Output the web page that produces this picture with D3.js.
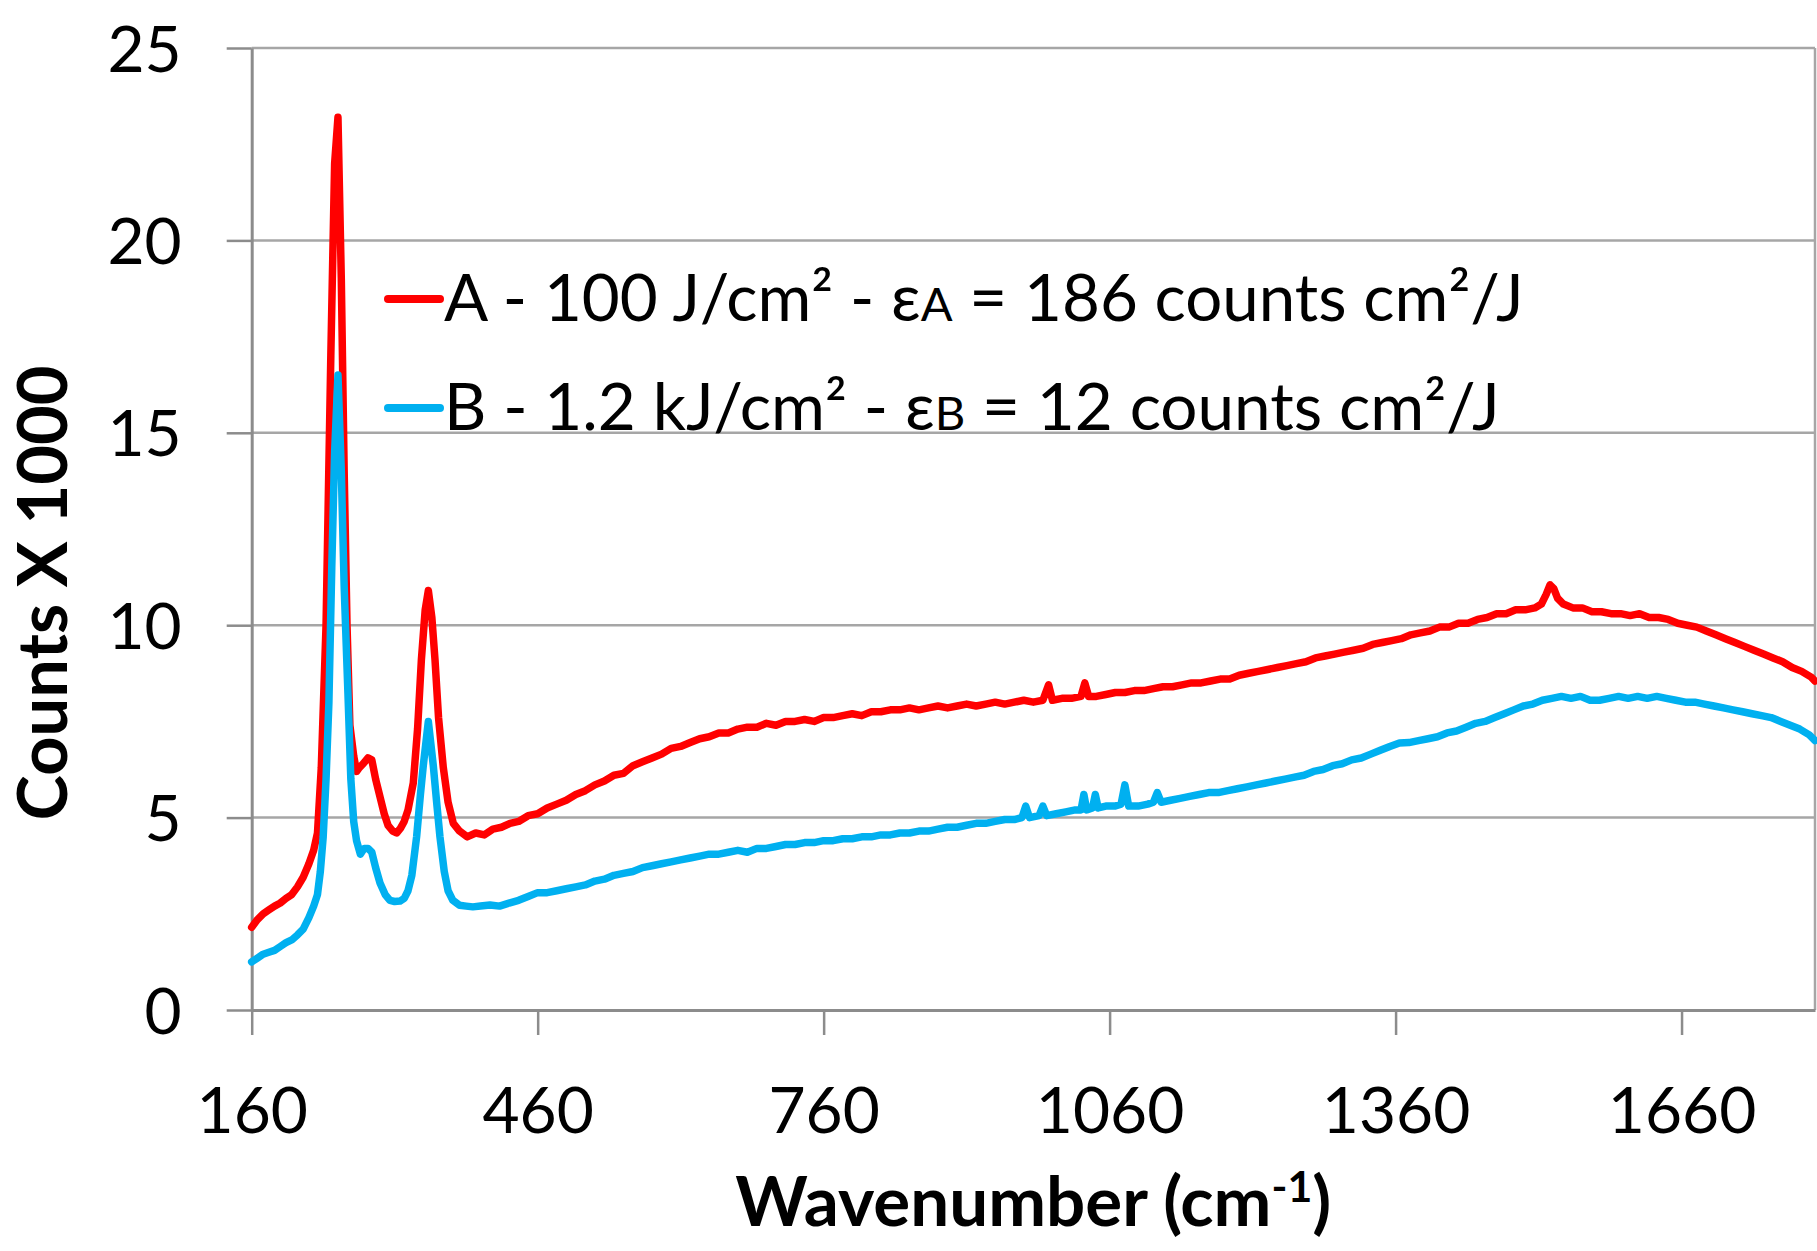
<!DOCTYPE html>
<html>
<head>
<meta charset="utf-8">
<script src="https://cdn.jsdelivr.net/npm/d3@7"></script>
<style>
  html, body { margin: 0; padding: 0; background: #ffffff; }
  svg { display: block; }
  text { font-family: Lato, "Open Sans", "Liberation Sans", sans-serif; fill: #000; }
</style>
</head>
<body>
<svg id="chart" width="1817" height="1251"></svg>
<script>
// ---------------- data ----------------
const xTicks = [160, 460, 760, 1060, 1360, 1660];
const yTicks = [0, 5, 10, 15, 20, 25];
const xDomain = [160, 1800];
const yDomain = [0, 25];

const seriesNames = [
  "A - 100 J/cm² - ε|A| = 186 counts cm²/J",
  "B - 1.2 kJ/cm² - ε|B| = 12 counts cm²/J"
];

const waveA = [160,166,172,178,184,190,196,202,208,214,220,225,229,233,238,243,247,250.5,254,257,260,263,267,270,273,277,282,286,290,295,299,303,308,312,316,320,324,329.5,334,338,342,345.3,349,352.3,356,361,366,371.5,378,386,395,404,413,422,431,440,450,460,470,480,490,500,510,520,530,540,550,560,570,580,590,600,610,620,630,640,650,660,670,680,690,700,710,720,730,740,750,760,770,780,790,800,810,820,830,840,850,860,870,880,890,900,910,920,930,940,950,960,970,980,990,996,1000,1010,1020,1030,1034,1038,1046,1056,1066,1076,1086,1096,1106,1116,1126,1136,1146,1156,1166,1176,1186,1196,1206,1216,1226,1236,1246,1256,1266,1276,1286,1296,1306,1316,1326,1336,1346,1356,1366,1376,1386,1396,1406,1416,1426,1436,1446,1456,1466,1476,1486,1496,1506,1513,1518,1522,1526,1530,1536,1546,1556,1566,1576,1586,1596,1606,1616,1626,1636,1646,1656,1666,1676,1686,1696,1706,1716,1726,1736,1746,1756,1766,1776,1786,1796,1800];
const countsA = [2.15,2.35,2.5,2.6,2.7,2.78,2.9,3.0,3.2,3.45,3.8,4.15,4.6,6.3,10.0,17.0,22.0,23.2,19.0,14.0,10.0,7.4,6.6,6.2,6.3,6.4,6.55,6.5,6.0,5.5,5.1,4.8,4.65,4.6,4.72,4.9,5.2,5.9,7.3,9.1,10.4,10.9,10.2,9.1,7.6,6.3,5.4,4.85,4.65,4.5,4.6,4.55,4.7,4.75,4.85,4.9,5.05,5.1,5.25,5.35,5.45,5.6,5.7,5.85,5.95,6.1,6.15,6.35,6.45,6.55,6.65,6.8,6.85,6.95,7.05,7.1,7.2,7.2,7.3,7.35,7.35,7.45,7.4,7.5,7.5,7.55,7.5,7.6,7.6,7.65,7.7,7.65,7.75,7.75,7.8,7.8,7.85,7.8,7.85,7.9,7.85,7.9,7.95,7.9,7.95,8.0,7.95,8.0,8.05,8.0,8.05,8.45,8.05,8.1,8.1,8.15,8.5,8.15,8.15,8.2,8.25,8.25,8.3,8.3,8.35,8.4,8.4,8.45,8.5,8.5,8.55,8.6,8.6,8.7,8.75,8.8,8.85,8.9,8.95,9.0,9.05,9.15,9.2,9.25,9.3,9.35,9.4,9.5,9.55,9.6,9.65,9.75,9.8,9.85,9.95,9.95,10.05,10.05,10.15,10.2,10.3,10.3,10.4,10.4,10.45,10.55,10.8,11.05,10.95,10.7,10.55,10.45,10.45,10.35,10.35,10.3,10.3,10.25,10.3,10.2,10.2,10.15,10.05,10.0,9.95,9.85,9.75,9.65,9.55,9.45,9.35,9.25,9.15,9.05,8.9,8.8,8.65,8.55];

const waveB = [160,166,172,178,184,190,196,202,208,214,220,225,229,232,235,238,241,244,247,250.5,254,257,261,264,267,270,274,278,282,286,290,294.6,300,305,310,315.6,320,324,328,333,337,340,345.3,350.5,354,357.5,362,366,371,378,385,392,400,410,420,430,440,450,460,470,480,490,500,510,520,530,540,550,560,570,580,590,600,610,620,630,640,650,660,670,680,690,700,710,720,730,740,750,760,770,780,790,800,810,820,830,840,850,860,870,880,890,900,910,920,930,940,950,960,968,972,976,986,990,994,1004,1014,1024,1030,1033,1036,1042,1045,1048,1056,1066,1072,1076,1080,1090,1100,1106,1110,1114,1124,1134,1144,1154,1164,1174,1184,1194,1204,1214,1224,1234,1244,1254,1264,1274,1284,1294,1304,1314,1324,1334,1344,1354,1364,1374,1384,1394,1404,1414,1424,1434,1444,1454,1464,1474,1484,1494,1504,1514,1524,1534,1544,1554,1564,1574,1584,1594,1604,1614,1624,1634,1644,1654,1664,1674,1684,1694,1704,1714,1724,1734,1744,1754,1764,1774,1784,1794,1800];
const countsB = [1.25,1.35,1.45,1.5,1.55,1.65,1.75,1.82,1.95,2.1,2.4,2.7,3.0,3.6,4.5,6.0,8.0,11.5,14.5,16.5,14.0,11.0,8.2,6.0,4.9,4.4,4.05,4.2,4.2,4.1,3.7,3.3,3.0,2.85,2.82,2.83,2.9,3.1,3.5,4.5,5.6,6.35,7.5,6.35,5.4,4.5,3.6,3.1,2.85,2.72,2.7,2.68,2.7,2.73,2.7,2.78,2.85,2.95,3.05,3.05,3.1,3.15,3.2,3.25,3.35,3.4,3.5,3.55,3.6,3.7,3.75,3.8,3.85,3.9,3.95,4.0,4.05,4.05,4.1,4.15,4.1,4.2,4.2,4.25,4.3,4.3,4.35,4.35,4.4,4.4,4.45,4.45,4.5,4.5,4.55,4.55,4.6,4.6,4.65,4.65,4.7,4.75,4.75,4.8,4.85,4.85,4.9,4.95,4.95,5.0,5.3,5.0,5.05,5.3,5.05,5.1,5.15,5.2,5.2,5.6,5.2,5.25,5.6,5.25,5.3,5.3,5.35,5.85,5.3,5.3,5.35,5.4,5.65,5.4,5.45,5.5,5.55,5.6,5.65,5.65,5.7,5.75,5.8,5.85,5.9,5.95,6.0,6.05,6.1,6.2,6.25,6.35,6.4,6.5,6.55,6.65,6.75,6.85,6.94,6.95,7.0,7.05,7.1,7.2,7.25,7.35,7.45,7.5,7.6,7.7,7.8,7.9,7.95,8.05,8.1,8.15,8.1,8.15,8.05,8.05,8.1,8.15,8.1,8.15,8.1,8.15,8.1,8.05,8.0,8.0,7.95,7.9,7.85,7.8,7.75,7.7,7.65,7.6,7.5,7.4,7.3,7.15,7.0];

const seriesColors = ["#ff0000", "#00b0f0"];

// ---------------- layout ----------------
const plot = { left: 251.7, right: 1815, top: 48, bottom: 1010 };
const svg = d3.select("#chart");

const x = d3.scaleLinear().domain(xDomain).range([plot.left, plot.right]);
const y = d3.scaleLinear().domain(yDomain).range([plot.bottom, plot.top]);

const gridColor = "#a6a6a6";
const axisColor = "#8c8c8c";
const tickFont = 64;

// gridlines
svg.append("g").selectAll("line").data(yTicks.filter(d => d > 0)).join("line")
  .attr("x1", plot.left).attr("x2", plot.right)
  .attr("y1", d => y(d)).attr("y2", d => y(d))
  .attr("stroke", gridColor).attr("stroke-width", 2.5);

// right border
svg.append("line")
  .attr("x1", plot.right).attr("x2", plot.right)
  .attr("y1", y(25)).attr("y2", y(0))
  .attr("stroke", gridColor).attr("stroke-width", 2.5);

// axes
const yAxis = svg.append("g").attr("transform", `translate(${plot.left},0)`)
  .call(d3.axisLeft(y).tickValues(yTicks).tickFormat(d3.format("d"))
    .tickSizeInner(25).tickSizeOuter(0).tickPadding(45));
const xAxis = svg.append("g").attr("transform", `translate(0,${plot.bottom})`)
  .call(d3.axisBottom(x).tickValues(xTicks).tickFormat(d3.format("d"))
    .tickSizeInner(25).tickSizeOuter(0).tickPadding(50));

[yAxis, xAxis].forEach(g => {
  g.select(".domain").attr("stroke", axisColor).attr("stroke-width", 3);
  g.selectAll(".tick line").attr("stroke", axisColor).attr("stroke-width", 2.5);
  g.selectAll(".tick text")
    .attr("font-family", "Lato, 'Open Sans', sans-serif")
    .attr("font-size", tickFont).attr("fill", "#000");
});
yAxis.selectAll(".tick text").attr("dy", "0.36em");
xAxis.selectAll(".tick text").attr("y", 123).attr("dy", 0);

// lines
const line = d3.line().x(d => x(d[0])).y(d => y(d[1]));
const dataA = waveA.map((w, i) => [w, countsA[i]]);
const dataB = waveB.map((w, i) => [w, countsB[i]]);
[dataA, dataB].forEach((data, i) => {
  svg.append("path").datum(data)
    .attr("d", line)
    .attr("fill", "none")
    .attr("stroke", seriesColors[i])
    .attr("stroke-width", 7.5)
    .attr("stroke-linejoin", "round")
    .attr("stroke-linecap", "round");
});

// helper: scale font so the text spans target width
function fitText(t, target) {
  const fs = parseFloat(t.attr("font-size"));
  const w = t.node().getComputedTextLength();
  if (w > 0) t.attr("font-size", fs * target / w);
}

// legend
const legendRows = [
  { cy: 299, baseline: 321, width: 1080 },
  { cy: 408, baseline: 430, width: 1056 }
];
seriesNames.forEach((name, i) => {
  const r = legendRows[i];
  svg.append("line")
    .attr("x1", 388).attr("x2", 440)
    .attr("y1", r.cy).attr("y2", r.cy)
    .attr("stroke", seriesColors[i]).attr("stroke-width", 8)
    .attr("stroke-linecap", "round");
  const t = svg.append("text").attr("x", 444).attr("y", r.baseline).attr("font-size", 64);
  const parts = name.split("|");
  t.append("tspan").text(parts[0]);
  t.append("tspan").attr("font-size", "0.72em").text(parts[1]);
  t.append("tspan").text(parts[2]);
  fitText(t, r.width);
});

// axis titles
const xt = svg.append("text")
  .attr("x", (plot.left + plot.right) / 2).attr("y", 1226)
  .attr("text-anchor", "middle").attr("font-weight", "bold").attr("font-size", 64);
xt.append("tspan").text("Wavenumber (cm");
xt.append("tspan").attr("font-size", "0.62em").attr("dy", "-0.55em").text("-1");
xt.append("tspan").attr("dy", "0.34em").text(")");
fitText(xt, 596);

const yt = svg.append("text")
  .attr("transform", "translate(67,593) rotate(-90)")
  .attr("text-anchor", "middle").attr("font-weight", "bold").attr("font-size", 68)
  .text("Counts X 1000");
fitText(yt, 455);
</script>
</body>
</html>
